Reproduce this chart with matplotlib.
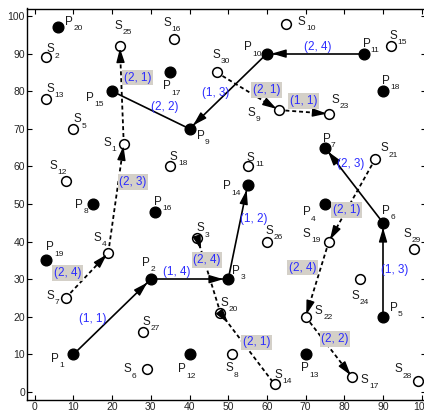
import numpy as np
import matplotlib
matplotlib.use("Agg")
import matplotlib.pyplot as plt

plt.rcParams['font.family'] = ['Liberation Sans', 'DejaVu Sans']

# P nodes (filled), P1..P20
p_x = [10, 30, 50, 75, 90, 90, 75, 15, 40, 60, 85, 40, 70, 55, 20, 31, 35, 90, 3, 6]
p_y = [10, 30, 30, 50, 20, 45, 65, 50, 70, 90, 90, 10, 10, 55, 80, 48, 85, 80, 35, 97]

# S nodes (hollow), S1..S30
s_x = [23, 3, 42, 19, 10, 29, 8, 51, 63, 65, 55, 8, 3, 62, 92, 36, 82, 35, 76, 48,
       88, 70, 76, 84, 22, 60, 28, 99, 98, 47]
s_y = [66, 89, 41, 37, 70, 6, 25, 10, 75, 98, 60, 56, 78, 2, 92, 94, 4, 60, 40, 21,
       62, 20, 74, 30, 92, 40, 16, 3, 38, 85]

# routes: (from, to, where the arrow head goes)
solid_edges = [("P1", "P2", "end"), ("P2", "P3", "end"), ("P3", "P14", "end"),
               ("P5", "P6", "end"), ("P6", "P7", "end"), ("P11", "P10", "end"),
               ("P10", "P9", "end"), ("P9", "P15", None)]
dashed_edges = [("S7", "S4", "end"), ("S4", "S1", "end"), ("S1", "S25", "end"),
                ("S30", "S9", "end"), ("S9", "S23", "end"), ("S21", "S19", "end"),
                ("S19", "S22", "end"), ("S22", "S17", "end"), ("S3", "S20", "start"),
                ("S20", "S14", "start")]

# edge labels: text, x, y
plain_labels = [("(1, 1)", 15.1, 19.4), ("(1, 4)", 36.8, 32.0), ("(1, 2)", 56.7, 46.0),
                ("(1, 3)", 93.0, 32.4), ("(2, 3)", 81.6, 60.6), ("(2, 2)", 33.5, 75.9),
                ("(1, 3)", 46.7, 79.5), ("(2, 4)", 73.0, 91.8)]
boxed_labels = [("(2, 1)", 80.5, 48.4), ("(2, 4)", 69.2, 33.1), ("(2, 2)", 77.6, 14.1),
                ("(2, 1)", 57.4, 13.2), ("(2, 4)", 44.5, 35.1), ("(2, 4)", 8.4, 31.6),
                ("(2, 3)", 25.4, 55.8), ("(2, 1)", 26.6, 83.6), ("(2, 1)", 60.0, 80.3),
                ("(1, 1)", 69.5, 77.4)]

# where each node name sits relative to its marker
p_off = [(-4.7, -0.8), (-1.2, 4.7), (2, 2.5), (-4.7, -1.9), (2.7, 2.7), (0.8, 3.4),
         (0.4, 2.7), (-3.6, 0), (2.8, -1.6), (-4.8, 2), (0.7, 2.9), (-1.9, -3.7),
         (-0.2, -3.4), (-5.4, 0), (-5.8, -1.5), (0.9, 2.9), (-0.8, -3.4), (0.7, 3),
         (0.9, 3.8), (2.8, 1.7)]
s_off = [(-4.3, 0.6), (1, 2.4), (0.8, 2.8), (-2.9, 4.3), (1, 2.8), (-5.1, 0.3),
         (-3.9, 0.8), (-0.8, -3.4), (-7, -0.5), (4, 0.8), (0.8, 2.6), (-3.2, 4.4),
         (1, 3), (0.9, 2.8), (0.7, 3), (-1.8, 4.5), (3.3, -0.4), (0.9, 2.8),
         (-5.7, 2.4), (0.9, 3), (2.4, 3.1), (3.4, 1.8), (1.6, 4), (-1.2, -4.2),
         (-0.3, 5.6), (0.7, 3.1), (0.9, 3), (-5, 3.3), (-1.8, 4.4), (0, 5)]

pos = {}
for i, (x, y) in enumerate(zip(p_x, p_y)):
    pos[f"P{i + 1}"] = (x, y)
for i, (x, y) in enumerate(zip(s_x, s_y)):
    pos[f"S{i + 1}"] = (x, y)

HEAD = '-|>,head_length=0.85,head_width=0.25'


def draw_head(ax, a, b, where, shrink):
    a = np.array(a, float)
    b = np.array(b, float)
    d = (b - a) / np.linalg.norm(b - a)
    if where == "end":
        start, tip = b - 4 * d, b
        sb = shrink
    else:
        start, tip = a, a + 3.3 * d
        sb = 0
    ax.annotate('', xy=tip, xytext=start,
                arrowprops=dict(arrowstyle=HEAD, color='k', lw=1.0,
                                shrinkA=0, shrinkB=sb), zorder=3)


def node_name(ax, x, y, letter, num):
    # letter plus a lowered, smaller index like MATLAB's P_{n}
    ax.text(x, y, letter, fontsize=8.4, color='#1a1a1a', ha='left', va='baseline', zorder=5)
    ax.annotate(str(num), xy=(x, y), xytext=(5.9, -3.8), textcoords='offset points',
                fontsize=6.0, color='#1a1a1a', ha='left', va='baseline', zorder=5)


fig = plt.figure(figsize=(4.24, 4.13), dpi=100)
ax = fig.add_axes([27 / 424, 13.5 / 413, 398.6 / 424, 391 / 413])

for a, b, h in solid_edges:
    (x0, y0), (x1, y1) = pos[a], pos[b]
    ax.plot([x0, x1], [y0, y1], color='k', lw=1.2, zorder=1)
    if h:
        draw_head(ax, pos[a], pos[b], h, 3.5)

for a, b, h in dashed_edges:
    (x0, y0), (x1, y1) = pos[a], pos[b]
    ax.plot([x0, x1], [y0, y1], color='k', lw=1.3, ls=(0, (2.2, 1.6)), zorder=1)
    if h:
        draw_head(ax, pos[a], pos[b], h, 1.5)

ax.plot(s_x, s_y, 'o', ms=7, mfc='white', mec='k', mew=1.1, zorder=2)
ax.plot(p_x, p_y, 'o', ms=7.7, mfc='k', mec='k', zorder=4)

for i, (x, y) in enumerate(zip(p_x, p_y)):
    dx, dy = p_off[i]
    node_name(ax, x + dx - 1.0, y + dy - 1.1, 'P', i + 1)
for i, (x, y) in enumerate(zip(s_x, s_y)):
    dx, dy = s_off[i]
    node_name(ax, x + dx - 1.0, y + dy - 1.1, 'S', i + 1)

blue = '#2b2bff'
for t, x, y in plain_labels:
    ax.text(x, y, t, fontsize=8.4, color=blue, ha='center', va='center', zorder=6)
for t, x, y in boxed_labels:
    ax.text(x, y, t, fontsize=8.4, color=blue, ha='center', va='center', zorder=6,
            bbox=dict(boxstyle='square,pad=0.15', fc='#d4d0c8', ec='none'))

ax.set_xlim(-2, 101)
ax.set_ylim(-2, 102)
ax.set_xticks(range(0, 101, 10))
ax.set_yticks(range(0, 101, 10))
ax.tick_params(direction='in', top=True, right=True, length=3.5, width=0.8,
               labelsize=7.5, labelcolor='#262626')
ax.tick_params(axis='x', pad=2)
ax.tick_params(axis='y', pad=1.5)
for sp in ax.spines.values():
    sp.set_linewidth(1.0)

fig.savefig("out.png", dpi=100)
